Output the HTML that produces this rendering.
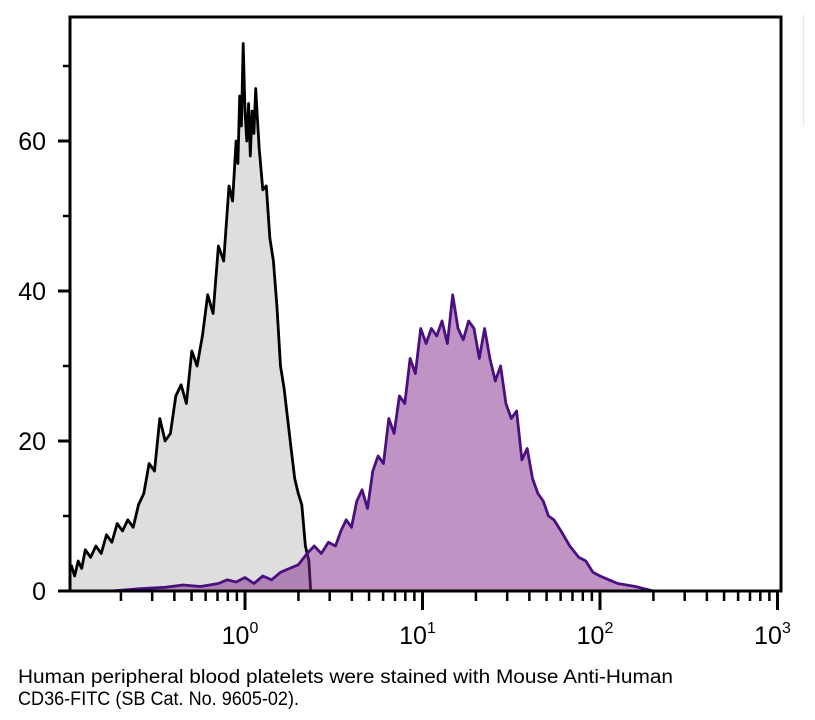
<!DOCTYPE html>
<html><head><meta charset="utf-8"><style>
body{margin:0;background:#fff;}
svg{display:block;font-family:"Liberation Sans",sans-serif;}
</style></head><body>
<svg id="chart" width="815" height="720" viewBox="0 0 815 720">
<line x1="803.5" y1="15" x2="803.5" y2="125" stroke="#e6e6e6" stroke-width="1.5"/>
<g id="series"></g>
<g id="axes"></g>
<text x="18" y="683" font-size="19" textLength="655" lengthAdjust="spacingAndGlyphs">Human peripheral blood platelets were stained with Mouse Anti-Human</text>
<text x="18" y="705" font-size="19" textLength="281" lengthAdjust="spacingAndGlyphs">CD36-FITC (SB Cat. No. 9605-02).</text>
</svg>
<script>
// control (gray) histogram: log10 intensity, count
const controlLog = [-0.98,-0.96,-0.94,-0.92,-0.9,-0.87,-0.84,-0.81,-0.78,-0.75,-0.72,-0.69,-0.66,-0.63,-0.6,-0.57,-0.54,-0.51,-0.48,-0.45,-0.42,-0.39,-0.36,-0.33,-0.3,-0.27,-0.24,-0.21,-0.18,-0.15,-0.12,-0.09,-0.07,-0.05,-0.04,-0.03,-0.02,-0.01,0,0.01,0.02,0.03,0.04,0.05,0.06,0.07,0.08,0.1,0.12,0.14,0.16,0.18,0.2,0.22,0.24,0.26,0.28,0.3,0.32,0.34,0.36,0.37];
const controlCount = [3.5,2,4,3,5.5,4.5,6,5,7.5,6.5,9,8,9.5,8.5,11.5,13,17,16,23,20,21,26,27.5,25,32,30,34,39.5,37,46,44,54,52,60,57,66,62,73,64,60,65,58,64,61,67,63,59,53.5,54,47,44,38,30,27,23,19,15,13,11.5,6,4,0];
// CD36-FITC (purple) histogram
const stainLog = [-0.75,-0.6,-0.45,-0.35,-0.25,-0.15,-0.1,-0.05,0,0.05,0.1,0.15,0.2,0.25,0.3,0.35,0.39,0.43,0.47,0.51,0.54,0.57,0.6,0.63,0.66,0.69,0.72,0.75,0.78,0.81,0.84,0.87,0.9,0.93,0.96,0.99,1.02,1.05,1.08,1.11,1.14,1.17,1.2,1.23,1.26,1.29,1.32,1.35,1.38,1.41,1.44,1.47,1.5,1.53,1.56,1.59,1.62,1.65,1.68,1.71,1.74,1.78,1.83,1.88,1.92,1.96,2.0,2.05,2.1,2.15,2.2,2.25,2.3];
const stainCount = [0,0.3,0.5,0.8,0.6,1,1.5,1.2,1.8,1,2,1.5,2.5,3,3.5,5,6,5,6.5,6,8,9.5,8.5,12,13.5,11,16,18,17,23,21,26,25,31,29,35,33,35,34,36,33,39.5,35,33.5,36,35,31,35,31,28,30,25,23,24,17.5,19,15,13,12,10,9.5,8,6,4.5,4,2.5,2,1.5,1,0.8,0.6,0.3,0];
const yTicks = [0,20,40,60];
const yMinor = [10,30,50,70];
const xDecades = [0,1,2,3];

const NS='http://www.w3.org/2000/svg';
const X0=245, DEC=177.5, Y0=591, YS=7.5, LEFT=70, RIGHT=781, TOP=17;
const xs = l => X0 + l*DEC;
const ys = c => Y0 - c*YS;
function mk(tag, attrs, parent){const e=document.createElementNS(NS,tag);for(const k in attrs)e.setAttribute(k,attrs[k]);parent.appendChild(e);return e;}
const ser=document.getElementById('series'), ax=document.getElementById('axes');

function hist(logs, counts, fill, stroke, sw, name){
  let d='M'+xs(logs[0])+','+Y0;
  logs.forEach((l,i)=>{d+=' L'+xs(l).toFixed(1)+','+ys(counts[i]).toFixed(1);});
  d+=' L'+xs(logs[logs.length-1])+','+Y0+' Z';
  const f=mk('path',{d:d,fill:fill,stroke:'none'},ser);
  
  
  let d2='';
  logs.forEach((l,i)=>{d2+=(i?' L':'M')+xs(l).toFixed(1)+','+ys(counts[i]).toFixed(1);});
  const s=mk('path',{d:d2,fill:'none',stroke:stroke,'stroke-width':sw,'stroke-linejoin':'round'},ser);
  
  
}
hist(controlLog, controlCount, '#dedede', '#000', 2.8, 'control-histogram');
hist(stainLog, stainCount, 'rgba(130,40,140,0.5)', '#4a1080', 2.8, 'cd36-histogram');

const fr=mk('path',{d:`M${LEFT},${Y0} L${LEFT},${TOP} L${RIGHT},${TOP} L${RIGHT},${Y0} Z`,fill:'none',stroke:'#000','stroke-width':3},ax);



yTicks.forEach(v=>{
  const t=mk('line',{x1:LEFT-12,x2:LEFT,y1:ys(v),y2:ys(v),stroke:'#000','stroke-width':3},ax);
  
  
  const tx=mk('text',{x:LEFT-24,y:ys(v)+9,'font-size':25,'text-anchor':'end'},ax);
  tx.textContent=v;
  
  
});
yMinor.forEach(v=>{
  const t=mk('line',{x1:LEFT-7,x2:LEFT,y1:ys(v),y2:ys(v),stroke:'#000','stroke-width':2.5},ax);
  
  
});
for(let d=-1; d<3; d++){
  for(let m=2;m<=9;m++){
    const l=d+Math.log10(m);
    if(xs(l)<LEFT+3) continue;
    const t=mk('line',{x1:xs(l),x2:xs(l),y1:Y0,y2:Y0+10,stroke:'#000','stroke-width':2.5},ax);
    
    
  }
}
xDecades.forEach(p=>{
  const t=mk('line',{x1:xs(p),x2:xs(p),y1:Y0,y2:Y0+19,stroke:'#000','stroke-width':3},ax);
  
  
  const tx=mk('text',{x:xs(p)-5,y:Y0+53,'font-size':25,'text-anchor':'middle'},ax);
  
  
  tx.appendChild(document.createTextNode('10'));
  const sp=mk('tspan',{dy:-11,'font-size':16},tx);
  sp.textContent=p;
});
</script>
</body></html>
